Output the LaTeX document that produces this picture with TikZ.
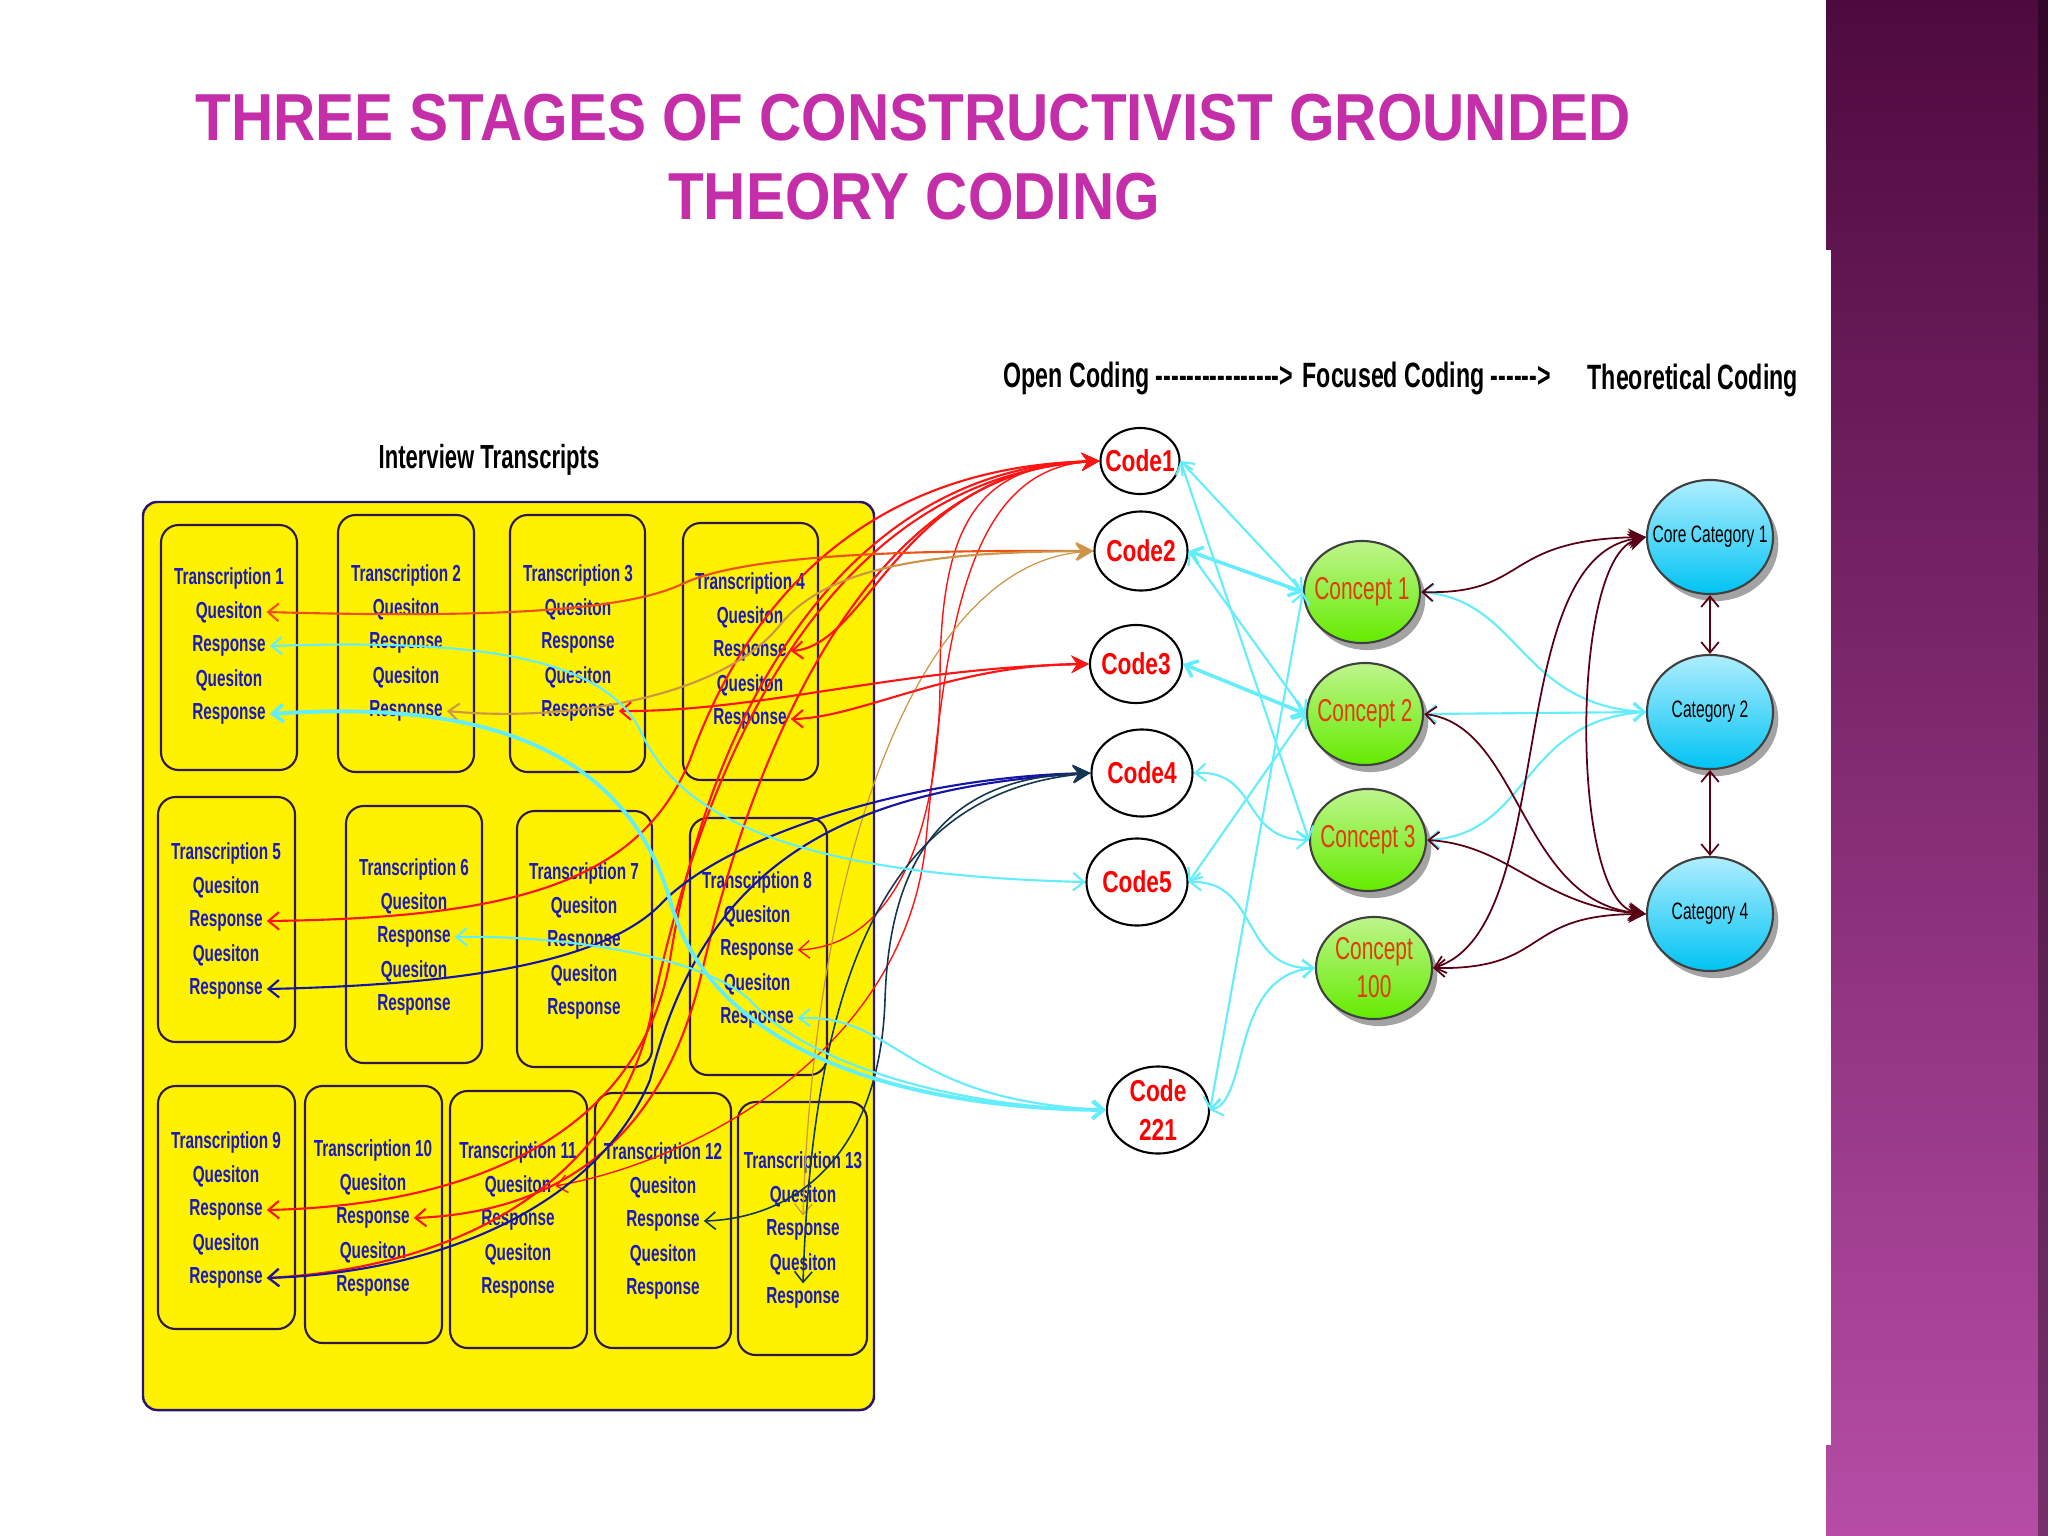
\documentclass[tikz,border=0pt]{standalone}
\usepackage{fontspec}
\usetikzlibrary{shapes.geometric,arrows.meta,shadows}
\newfontfamily\slidefont[FakeStretch=0.88]{Liberation Sans}
\newfontfamily\narrowfont[FakeStretch=0.66]{Liberation Sans}
\newfontfamily\codefont[FakeStretch=0.75]{Liberation Sans}
\definecolor{titlemag}{RGB}{196,46,168}
\definecolor{sidetop}{RGB}{78,10,62}
\definecolor{sidemid}{RGB}{125,40,110}
\definecolor{sidebot}{RGB}{182,76,166}
\definecolor{bigline}{RGB}{40,20,120}
\definecolor{boxline}{RGB}{45,25,80}
\definecolor{qrblue}{RGB}{25,25,190}
\definecolor{conlight}{RGB}{190,245,140}
\definecolor{condark}{RGB}{100,235,0}
\definecolor{context}{RGB}{225,60,10}
\definecolor{catlight}{RGB}{175,238,255}
\definecolor{catdark}{RGB}{0,195,242}
\definecolor{linkred}{RGB}{255,20,20}
\definecolor{orangered}{RGB}{240,80,20}
\definecolor{tanlink}{RGB}{205,150,70}
\definecolor{navylink}{RGB}{20,20,165}
\definecolor{darkteal}{RGB}{20,55,80}
\definecolor{aqua}{RGB}{100,238,252}
\definecolor{maroonlink}{RGB}{90,0,20}
\newcommand\dsh{-\kern0pt}

\begin{document}
\begin{tikzpicture}[x=0.01cm,y=-0.01cm,
  slidetitle/.style={text=titlemag,font=\slidefont\bfseries\fontsize{18.9}{22}\selectfont,inner sep=0pt},
  stagehead/.style={text=black,font=\narrowfont\bfseries\fontsize{10}{12}\selectfont,inner sep=0pt},
  transbox/.style={draw=boxline,line width=0.6pt,rounded corners=5pt},
  qrtext/.style={text=qrblue,font=\narrowfont\bfseries\fontsize{6.6}{8}\selectfont,inner sep=1pt},
  codeshape/.style={ellipse,draw=black,line width=0.6pt,fill=white,inner sep=0pt},
  codetext/.style={text=red,font=\codefont\bfseries\fontsize{8.6}{11}\selectfont,align=center,inner sep=0pt},
  conceptshape/.style={ellipse,draw=black!75,line width=0.6pt,top color=conlight,bottom color=condark,
    minimum width=1.16cm,minimum height=1.02cm,inner sep=0pt,
    drop shadow={shadow xshift=1.5pt,shadow yshift=-2pt,fill=black!45,opacity=0.8}},
  concepttext/.style={text=context,font=\narrowfont\fontsize{9}{10.8}\selectfont,align=center,inner sep=0pt},
  catshape/.style={ellipse,draw=black!75,line width=0.6pt,top color=catlight,bottom color=catdark,
    minimum width=1.26cm,minimum height=1.14cm,inner sep=0pt,
    drop shadow={shadow xshift=1.5pt,shadow yshift=-2pt,fill=black!45,opacity=0.8}},
  cattext/.style={text=black,font=\narrowfont\fontsize{6.75}{8}\selectfont,inner sep=0pt},
  redlink/.style={draw=linkred,line width=0.6pt,arrows={Straight Barb[length=3pt,width=5pt]-Stealth[length=5pt,width=5pt]}},
  navylinks/.style={draw=navylink,line width=0.6pt,arrows={Straight Barb[length=3pt,width=5pt]-Stealth[length=5pt,width=5pt]}},
  aqualink/.style={draw=aqua,line width=0.6pt,<->,>={Straight Barb[length=3pt,width=5pt]}},
  maroonlinks/.style={draw=maroonlink,line width=0.5pt,arrows={Straight Barb[length=3pt,width=5pt]-Stealth[length=5pt,width=5pt]}}]

\useasboundingbox (0,0) rectangle (2048,1536);
\fill[white] (0,0) rectangle (2048,1536);

% side strip
\shade[top color=sidetop,middle color=sidemid,bottom color=sidebot] (1826,0) rectangle (2048,1536);
\fill[black,opacity=0.35] (2038,0) rectangle (2048,1536);
\fill[white] (1826,250) rectangle (1831,1445);

% title
\node[slidetitle] (title1) at (913,118) {THREE STAGES OF CONSTRUCTIVIST GROUNDED};
\node[slidetitle] (title2) at (914,197) {THEORY CODING};

% stage headings
\node[stagehead,anchor=west] (openhead) at (1003,378) {Open Coding \dsh\dsh\dsh\dsh\dsh\dsh\dsh\dsh\dsh\dsh\dsh\dsh\dsh\dsh\dsh\dsh>};
\node[stagehead,anchor=west] (focushead) at (1302,378) {Focused Coding \dsh\dsh\dsh\dsh\dsh\dsh>};
\node[stagehead,anchor=west] (theohead) at (1587,380) {Theoretical Coding};
\node[stagehead,font=\narrowfont\bfseries\fontsize{9.5}{12}\selectfont] (interview) at (489,460) {Interview Transcripts};

% transcripts
\draw[fill=yellow,draw=bigline,line width=0.7pt,rounded corners=4pt] (143,502) rectangle (874,1410);
\foreach \n/\xa/\ya/\xb/\yb/\cx/\ty in {1/161/525/297/770/229/578, 2/338/515/474/772/406/575,
    3/510/515/645/772/578/575, 4/683/523/818/780/750/583, 5/158/797/295/1042/226/853,
    6/346/806/482/1063/414/869, 7/517/811/652/1067/584/873, 8/690/818/827/1075/757/882,
    9/158/1086/295/1329/226/1142, 10/305/1086/442/1343/373/1150, 11/450/1091/587/1348/518/1152,
    12/595/1093/731/1348/663/1153, 13/738/1102/867/1355/803/1162}{
  \draw[transbox] (\xa,\ya) rectangle (\xb,\yb);
  \node[qrtext] (t\n-0) at (\cx,\ty) {Transcription \n};
  \foreach \w [count=\j] in {Quesiton,Response,Quesiton,Response}
    \node[qrtext] (t\n-\j) at ({\cx},{\ty+34*\j}) {\w};
}

% codes
\node[codeshape,minimum width=0.79cm,minimum height=0.66cm] (code1) at (1140,461) {};
\node[codeshape,minimum width=0.93cm,minimum height=0.79cm] (code2) at (1141,551) {};
\node[codeshape,minimum width=0.92cm,minimum height=0.78cm] (code3) at (1136,664) {};
\node[codeshape,minimum width=1.01cm,minimum height=0.87cm] (code4) at (1142,773) {};
\node[codeshape,minimum width=1.01cm,minimum height=0.87cm] (code5) at (1137,882) {};
\node[codeshape,minimum width=1.02cm,minimum height=0.87cm] (code221) at (1158,1110) {};
\node[codetext] (code1-t) at (code1) {Code1};
\node[codetext] (code2-t) at (code2) {Code2};
\node[codetext] (code3-t) at (code3) {Code3};
\node[codetext] (code4-t) at (code4) {Code4};
\node[codetext] (code5-t) at (code5) {Code5};
\node[codetext] (code221-t) at (code221) {Code\\221};

% concepts
\node[conceptshape] (c1) at (1362,592) {};
\node[conceptshape] (c2) at (1365,714) {};
\node[conceptshape] (c3) at (1368,840) {};
\node[conceptshape] (c100) at (1374,968) {};
\node[concepttext] (c1-t) at (c1) {Concept 1};
\node[concepttext] (c2-t) at (c2) {Concept 2};
\node[concepttext] (c3-t) at (c3) {Concept 3};
\node[concepttext] (c100-t) at (c100) {Concept\\100};

% categories
\node[catshape] (cat1) at (1710,537) {};
\node[catshape] (cat2) at (1710,712) {};
\node[catshape] (cat4) at (1710,914) {};
\node[cattext] (cat1-t) at (cat1) {Core Category 1};
\node[cattext] (cat2-t) at (cat2) {Category 2};
\node[cattext] (cat4-t) at (cat4) {Category 4};

% transcripts to codes
\draw[redlink] (t4-2.east) .. controls (870,645) and (900,470) .. (code1.west);
\draw[redlink] (t5-2.east) .. controls (520,918) and (640,880) .. (690,760) .. controls (740,620) and (850,468) .. (code1.west);
\draw[redlink,line width=0.4pt] (t8-2.east) .. controls (900,945) and (940,820) .. (940,680) .. controls (940,520) and (980,465) .. (code1.west);
\draw[redlink] (t9-2.east) .. controls (480,1205) and (640,1130) .. (670,960) .. controls (700,760) and (820,470) .. (code1.west);
\draw[redlink] (t10-2.east) .. controls (560,1212) and (660,1140) .. (700,980) .. controls (760,720) and (880,470) .. (code1.west);
\draw[redlink] (t9-4.east) .. controls (450,1268) and (610,1190) .. (650,1020) .. controls (690,820) and (800,480) .. (code1.west);
\draw[redlink,line width=0.4pt] (t11-1.east) .. controls (700,1160) and (900,1050) .. (925,850) .. controls (945,650) and (960,470) .. (code1.west);
\draw[redlink,draw=orangered] (t1-1.east) .. controls (480,618) and (620,612) .. (680,585) .. controls (740,555) and (900,550) .. (code2.west);
\draw[redlink,draw=tanlink] (t2-4.east) .. controls (560,722) and (720,700) .. (780,625) .. controls (830,562) and (950,552) .. (code2.west);
\draw[redlink,draw=tanlink,line width=0.35pt] (t13-2.north) .. controls (815,850) and (920,565) .. (code2.west);
\draw[redlink] (t3-4.east) .. controls (760,712) and (900,668) .. (code3.west);
\draw[redlink] (t4-4.east) .. controls (860,718) and (950,665) .. (code3.west);
\draw[navylinks] (t5-4.east) .. controls (450,985) and (600,965) .. (660,905) .. controls (720,840) and (900,778) .. (code4.west);
\draw[navylinks] (t9-4.east) .. controls (450,1272) and (600,1200) .. (650,1080) .. controls (700,880) and (820,790) .. (code4.west);
\draw[navylinks,draw=darkteal,line width=0.45pt] (t12-2.east) .. controls (800,1218) and (880,1150) .. (885,1000) .. controls (890,840) and (960,778) .. (code4.west);
\draw[navylinks,draw=darkteal,line width=0.45pt] (t13-4.north) .. controls (815,900) and (930,790) .. (code4.west);
\draw[aqualink] (t1-2.east) .. controls (450,640) and (600,650) .. (640,730) .. controls (680,820) and (800,875) .. (code5.west);
\draw[aqualink,line width=1.1pt] (t1-4.east) .. controls (450,702) and (620,730) .. (670,900) .. controls (710,1050) and (900,1108) .. (code221.west);
\draw[aqualink] (t6-2.east) .. controls (560,935) and (700,955) .. (750,1000) .. controls (800,1060) and (950,1108) .. (code221.west);
\draw[aqualink] (t8-4.east) .. controls (900,1015) and (900,1100) .. (code221.west);

% codes to concepts
\draw[aqualink] (code1.east) -- (c1.west);
\draw[aqualink] (code1.east) -- (c3.west);
\draw[aqualink,line width=1pt] (code2.east) -- (c1.west);
\draw[aqualink] (code2.east) -- (c2.west);
\draw[aqualink,line width=1pt] (code3.east) -- (c2.west);
\draw[aqualink] (code4.east) .. controls (1260,770) and (1240,840) .. (c3.west);
\draw[aqualink] (code5.east) -- (c2.west);
\draw[aqualink] (code5.east) .. controls (1260,880) and (1240,970) .. (c100.west);
\draw[aqualink] (code221.east) -- (c1.west);
\draw[aqualink] (code221.east) .. controls (1250,1100) and (1230,975) .. (c100.west);

% concepts to categories
\draw[aqualink] (c1.east) .. controls (1520,600) and (1520,705) .. (cat2.west);
\draw[aqualink] (c2.east) -- (cat2.west);
\draw[aqualink] (c3.east) .. controls (1530,835) and (1520,720) .. (cat2.west);
\draw[maroonlinks] (c1.east) .. controls (1530,595) and (1500,540) .. (cat1.west);
\draw[maroonlinks] (c2.east) .. controls (1520,725) and (1520,900) .. (cat4.west);
\draw[maroonlinks] (c3.east) .. controls (1510,845) and (1540,905) .. (cat4.west);
\draw[maroonlinks] (c100.east) .. controls (1550,970) and (1520,915) .. (cat4.west);
\draw[maroonlinks] (c100.east) .. controls (1560,930) and (1500,560) .. (cat1.west);
\draw[maroonlinks,arrows={Stealth[length=5pt,width=5pt]-Stealth[length=5pt,width=5pt]}] (cat1.west) .. controls (1570,560) and (1570,900) .. (cat4.west);
\draw[maroonlinks,<->,>={Straight Barb[length=3pt,width=5pt]}] (cat1.south) -- (cat2.north);
\draw[maroonlinks,<->,>={Straight Barb[length=3pt,width=5pt]}] (cat2.south) -- (cat4.north);
\end{tikzpicture}
\end{document}
